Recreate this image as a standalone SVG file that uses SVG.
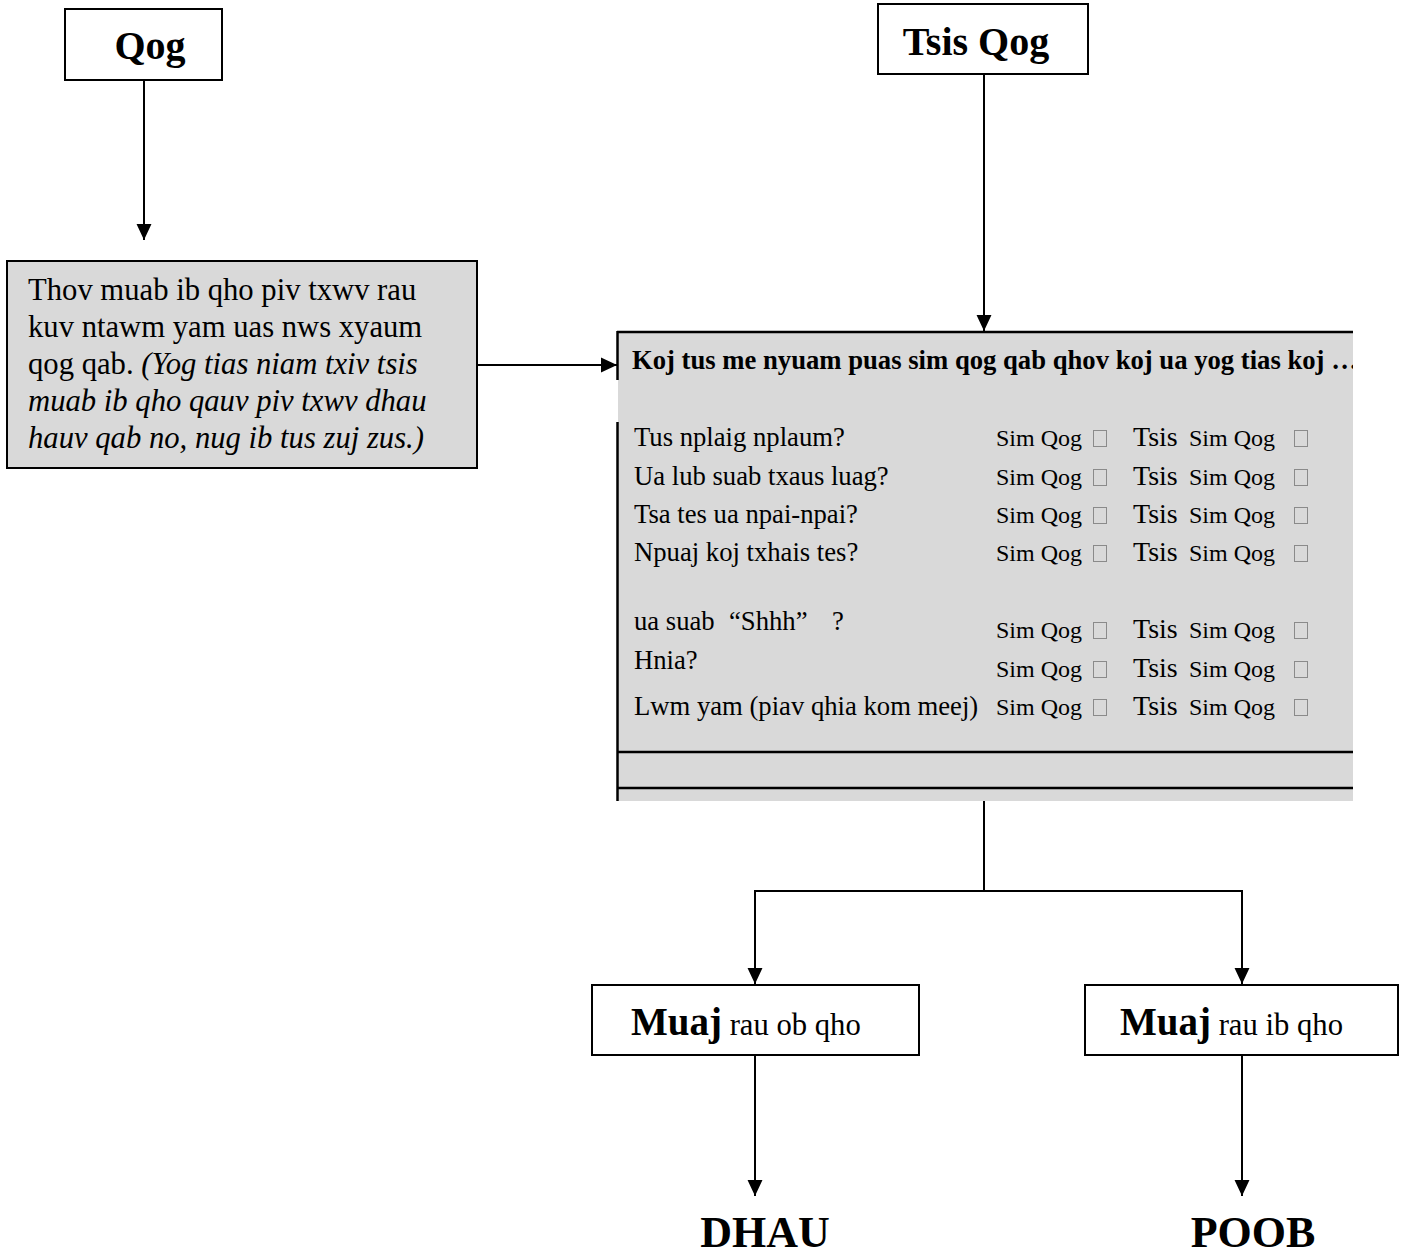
<svg xmlns="http://www.w3.org/2000/svg" width="1405" height="1255" viewBox="0 0 1405 1255">
<style>
text{font-family:"Liberation Serif","Times New Roman",serif;fill:#000}
.box{fill:#fff;stroke:#000;stroke-width:2}
.gray{fill:#d9d9d9}
.gbox{fill:#d9d9d9;stroke:#000;stroke-width:2}
.conn{fill:none;stroke:#000;stroke-width:2}
.rule{stroke:#000;stroke-width:2.5}
.b{font-weight:bold}
.lbl{font-size:26.67px}
.sq{font-size:24px}
.ts{font-size:28px}
.cb{fill:none;stroke:#8a8a8a;stroke-width:1}
</style>
<defs>
<marker id="arr" markerUnits="userSpaceOnUse" markerWidth="16" markerHeight="16" viewBox="0 0 15 14" refX="15" refY="7" orient="auto">
<path d="M0,0 L15,7 L0,14 z" fill="#000"/>
</marker>
<clipPath id="clipBig"><rect x="600" y="320" width="753" height="490"/></clipPath>
</defs>

<g id="connectors">
<line class="conn" x1="144" y1="80" x2="144" y2="240" marker-end="url(#arr)"/>
<line class="conn" x1="477" y1="365" x2="617" y2="365" marker-end="url(#arr)"/>
<line class="conn" x1="984" y1="74" x2="984" y2="331" marker-end="url(#arr)"/>
<polyline class="conn" points="984,801 984,891 755,891 755,984" marker-end="url(#arr)"/>
<polyline class="conn" points="984,891 1242,891 1242,984" marker-end="url(#arr)"/>
<line class="conn" x1="755" y1="1055" x2="755" y2="1196" marker-end="url(#arr)"/>
<line class="conn" x1="1242" y1="1055" x2="1242" y2="1196" marker-end="url(#arr)"/>
</g>

<g id="node-qog">
<rect class="box" x="65" y="9" width="157" height="71"/>
<text class="b" x="150" y="59" font-size="40" text-anchor="middle">Qog</text>
</g>

<g id="node-tsis-qog">
<rect class="box" x="878" y="4" width="210" height="70"/>
<text class="b" x="976" y="55" font-size="40" text-anchor="middle">Tsis Qog</text>
</g>

<g id="node-example">
<rect class="gbox" x="7" y="261" width="470" height="207"/>
<text x="28" y="300" font-size="30.67">Thov muab ib qho piv txwv rau</text>
<text x="28" y="337" font-size="30.67">kuv ntawm yam uas nws xyaum</text>
<text x="28" y="374" font-size="30.67">qog qab. <tspan font-style="italic">(Yog tias niam txiv tsis</tspan></text>
<text x="28" y="411" font-size="30.67" font-style="italic">muab ib qho qauv piv txwv dhau</text>
<text x="28" y="448" font-size="30.67" font-style="italic">hauv qab no, nug ib tus zuj zus.)</text>
</g>

<g id="node-questions">
<rect class="gray" x="618" y="332" width="735" height="469"/>
<line class="rule" x1="617" y1="332" x2="1353" y2="332"/>
<line class="rule" x1="617.5" y1="331" x2="617.5" y2="380"/>
<line class="rule" x1="617.5" y1="422" x2="617.5" y2="801"/>
<line class="rule" x1="617" y1="752" x2="1353" y2="752"/>
<line class="rule" x1="617" y1="788" x2="1353" y2="788"/>
<g clip-path="url(#clipBig)">
<text class="b" x="632" y="369" font-size="26.67">Koj tus me nyuam puas sim qog qab qhov koj ua yog tias koj …</text>
</g>
<text class="lbl" x="634" y="446">Tus nplaig nplaum?</text>
<text class="lbl" x="634" y="485">Ua lub suab txaus luag?</text>
<text class="lbl" x="634" y="523">Tsa tes ua npai-npai?</text>
<text class="lbl" x="634" y="561">Npuaj koj txhais tes?</text>
<text class="lbl" x="634" y="630">ua suab <tspan x="729">“Shhh”</tspan><tspan x="832">?</tspan></text>
<text class="lbl" x="634" y="669">Hnia?</text>
<text class="lbl" x="634" y="715">Lwm yam (piav qhia kom meej)</text>

<text class="sq" x="996" y="446">Sim Qog</text>
<text class="sq" x="996" y="485">Sim Qog</text>
<text class="sq" x="996" y="523">Sim Qog</text>
<text class="sq" x="996" y="561">Sim Qog</text>
<text class="sq" x="996" y="638">Sim Qog</text>
<text class="sq" x="996" y="677">Sim Qog</text>
<text class="sq" x="996" y="715">Sim Qog</text>

<text class="ts" x="1133" y="446">Tsis</text>
<text class="ts" x="1133" y="485">Tsis</text>
<text class="ts" x="1133" y="523">Tsis</text>
<text class="ts" x="1133" y="561">Tsis</text>
<text class="ts" x="1133" y="638">Tsis</text>
<text class="ts" x="1133" y="677">Tsis</text>
<text class="ts" x="1133" y="715">Tsis</text>

<text class="sq" x="1189" y="446">Sim Qog</text>
<text class="sq" x="1189" y="485">Sim Qog</text>
<text class="sq" x="1189" y="523">Sim Qog</text>
<text class="sq" x="1189" y="561">Sim Qog</text>
<text class="sq" x="1189" y="638">Sim Qog</text>
<text class="sq" x="1189" y="677">Sim Qog</text>
<text class="sq" x="1189" y="715">Sim Qog</text>

<rect class="cb" x="1093.5" y="430.5" width="13" height="16"/>
<rect class="cb" x="1093.5" y="469.5" width="13" height="16"/>
<rect class="cb" x="1093.5" y="507.5" width="13" height="16"/>
<rect class="cb" x="1093.5" y="545.5" width="13" height="16"/>
<rect class="cb" x="1093.5" y="622.5" width="13" height="16"/>
<rect class="cb" x="1093.5" y="661.5" width="13" height="16"/>
<rect class="cb" x="1093.5" y="699.5" width="13" height="16"/>

<rect class="cb" x="1294.5" y="430.5" width="13" height="16"/>
<rect class="cb" x="1294.5" y="469.5" width="13" height="16"/>
<rect class="cb" x="1294.5" y="507.5" width="13" height="16"/>
<rect class="cb" x="1294.5" y="545.5" width="13" height="16"/>
<rect class="cb" x="1294.5" y="622.5" width="13" height="16"/>
<rect class="cb" x="1294.5" y="661.5" width="13" height="16"/>
<rect class="cb" x="1294.5" y="699.5" width="13" height="16"/>
</g>

<g id="node-muaj-ob">
<rect class="box" x="592" y="985" width="327" height="70"/>
<text x="631" y="1035"><tspan class="b" font-size="39">Muaj</tspan><tspan font-size="30.67"> rau ob qho</tspan></text>
</g>

<g id="node-muaj-ib">
<rect class="box" x="1085" y="985" width="313" height="70"/>
<text x="1120" y="1035"><tspan class="b" font-size="39">Muaj</tspan><tspan font-size="30.67"> rau ib qho</tspan></text>
</g>

<g id="node-dhau">
<text class="b" x="765" y="1247" font-size="44" text-anchor="middle">DHAU</text>
</g>

<g id="node-poob">
<text class="b" x="1253" y="1247" font-size="44" text-anchor="middle">POOB</text>
</g>
</svg>
